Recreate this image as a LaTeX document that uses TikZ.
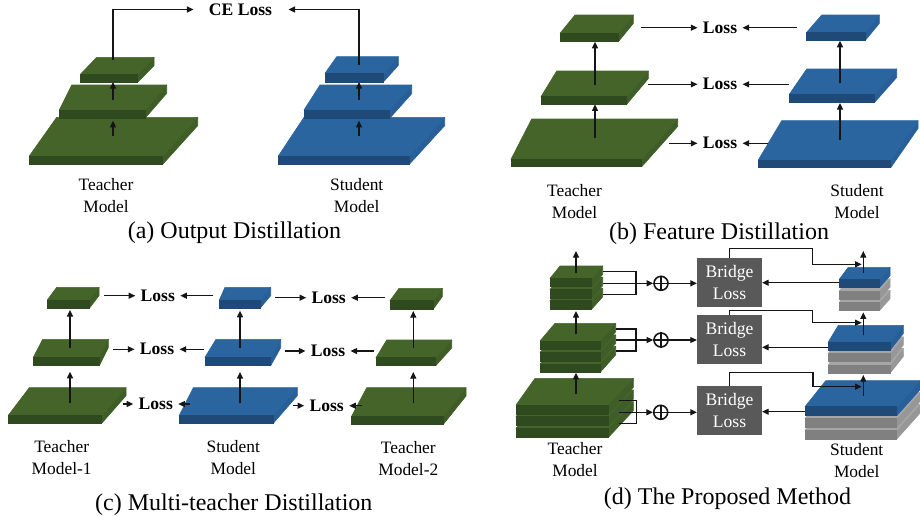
\documentclass[tikz,border=0pt]{standalone}
\usepackage{fontspec}
\setmainfont{Liberation Serif}
\usetikzlibrary{arrows.meta}
\definecolor{gtop}{HTML}{44642A}
\definecolor{gfront}{HTML}{2F4A1E}
\definecolor{gside}{HTML}{3E5D27}
\definecolor{btop}{HTML}{2A65A0}
\definecolor{bfront}{HTML}{1F4A78}
\definecolor{bside}{HTML}{285F98}
\definecolor{ytop}{HTML}{A6A6A6}
\definecolor{yfront}{HTML}{808080}
\definecolor{yside}{HTML}{979797}
\definecolor{boxgray}{HTML}{595959}
\definecolor{ln}{HTML}{151515}
% slab: front-left x, front-right x, front top y, thickness, back-left x, back-right x, back y, colour prefix
\newcommand{\slab}[8]{%
 \filldraw[fill=#8side,draw=#8side,line width=0.3pt,line join=round] (#2,#3) -- (#6,#7) -- (#6,#7+#4) -- (#2,#3+#4) -- cycle;
 \filldraw[fill=#8top,draw=#8top,line width=0.3pt,line join=round] (#1,#3) -- (#2,#3) -- (#6,#7) -- (#5,#7) -- cycle;
 \filldraw[fill=#8front,draw=#8front,line width=0.3pt] (#1,#3) rectangle (#2,#3+#4);}
\newcommand{\gstack}[8]{%
 \slab{#1}{#2}{#3+2*#8}{#4}{#5}{#6}{#7+2*#8}{g}%
 \slab{#1}{#2}{#3+#8}{#4}{#5}{#6}{#7+#8}{g}%
 \slab{#1}{#2}{#3}{#4}{#5}{#6}{#7}{g}}
\newcommand{\sstack}[8]{%
 \slab{#1}{#2}{#3+2*#8}{#4}{#5}{#6}{#7+2*#8}{y}%
 \slab{#1}{#2}{#3+#8}{#4}{#5}{#6}{#7+#8}{y}%
 \slab{#1}{#2}{#3}{#4}{#5}{#6}{#7}{b}}
\begin{document}
\begin{tikzpicture}[x=0.5pt,y=-0.5pt,
 arr/.style={draw=ln,line width=0.6pt,-{Triangle[length=3.3pt,width=3pt]}},
 plain/.style={draw=ln,line width=0.6pt},
 lbl/.style={inner sep=0pt,align=center,font=\fontsize{8.7}{11}\selectfont},
 capt/.style={inner sep=0pt,font=\fontsize{12}{14}\selectfont},
 lossn/.style={inner ysep=0pt,inner xsep=2.5pt,font=\fontsize{8.8}{10}\selectfont\bfseries},
 bridge/.style={fill=boxgray,text=white,inner sep=0pt,minimum width=32.2pt,minimum height=24.4pt,align=center,font=\fontsize{8.8}{10.8}\selectfont},
 oplus/.style={circle,draw=ln,line width=0.8pt,minimum size=7pt,inner sep=0pt}]
\useasboundingbox (0,0) rectangle (920,516);

% ================= (a) =================
\slab{29.3}{162.7}{156}{8.3}{56.7}{197.7}{117.3}{g}
\slab{59.3}{145}{110}{8.3}{71.7}{166.7}{85}{g}
\slab{80.7}{137.7}{74}{8.3}{96.7}{154}{57.3}{g}
\slab{278.3}{409.3}{156}{8.3}{304}{444.7}{117.3}{b}
\slab{304}{389.3}{110}{8.7}{320}{411.7}{85}{b}
\slab{325}{383.3}{73.3}{8.7}{336.7}{398.3}{56.7}{b}
\node[inner sep=0pt,font=\fontsize{8.8}{10}\selectfont\bfseries] (ce) at (240.5,9.5) {CE Loss};
\path (113,136) coordinate (aT1) (113,120.7) coordinate (aT2)
      (113,100) coordinate (aT3) (113,82) coordinate (aT4) (113,60) coordinate (aT5)
      (359,136) coordinate (aS1) (359,120.7) coordinate (aS2)
      (359,100) coordinate (aS3) (359,82) coordinate (aS4) (359,65) coordinate (aS5);
\draw[arr] (aT1) -- (aT2);
\draw[arr] (aT3) -- (aT4);
\draw[arr] (aS1) -- (aS2);
\draw[arr] (aS3) -- (aS4);
\draw[arr] (aT5) |- ([xshift=-7.5pt]ce.west);
\draw[arr] (aS5) |- ([xshift=8pt]ce.east);
\node[lbl] (aTl) at (106,196) {Teacher\\Model};
\node[lbl] (aSl) at (356.7,196) {Student\\Model};
\node[capt] (acap) at (234.5,233) {(a) Output Distillation};

% ================= (b) =================
\slab{511}{641.7}{159.3}{7.4}{531.7}{677.7}{119}{g}
\slab{541}{626.7}{96.7}{7.6}{556.7}{648.3}{71}{g}
\slab{560}{618.3}{33.3}{8.4}{575}{633.3}{15}{g}
\slab{758.3}{890.7}{160}{7.7}{781.7}{918}{120.7}{b}
\slab{789.3}{874.3}{94.3}{8.4}{806.7}{896.7}{69}{b}
\slab{806.7}{865}{32.3}{8.4}{821.7}{879.3}{15}{b}
\path (595,138) coordinate (bT1) (595,104.3) coordinate (bT2)
      (595,85) coordinate (bT3) (595,41.7) coordinate (bT4)
      (840,140) coordinate (bS1) (840,103) coordinate (bS2)
      (840,83) coordinate (bS3) (840,40.7) coordinate (bS4);
\draw[arr] (bT1) -- (bT2);
\draw[arr] (bT3) -- (bT4);
\draw[arr] (bS1) -- (bS2);
\draw[arr] (bS3) -- (bS4);
\node[lossn] (bL1) at (720,27.7) {Loss};
\node[lossn] (bL2) at (720,84.3) {Loss};
\node[lossn] (bL3) at (720,143.3) {Loss};
\path (641,27.7) coordinate (bl1) (796.7,27.7) coordinate (br1c)
      (648.3,84.3) coordinate (bl2) (789.3,84.3) coordinate (br2c)
      (669.3,143.3) coordinate (bl3) (768.3,143.3) coordinate (br3c);
\draw[arr] (bl1) -- (bL1.west);
\draw[arr] (br1c) -- (bL1.east);
\draw[arr] (bl2) -- (bL2.west);
\draw[arr] (br2c) -- (bL2.east);
\draw[arr] (bl3) -- (bL3.west);
\draw[arr] (br3c) -- (bL3.east);
\node[lbl] (bTl) at (574.5,201.2) {Teacher\\Model};
\node[lbl] (bSl) at (857,201.2) {Student\\Model};
\node[capt] (bcap) at (719,233.3) {(b) Feature Distillation};

% ================= (c) =================
\slab{8.3}{101.7}{415.3}{8}{29.3}{126}{387.7}{g}
\slab{33.3}{99.3}{357.3}{8.4}{42.7}{108.3}{339.3}{g}
\slab{47.3}{89.3}{300}{8.3}{56.7}{99}{287.3}{g}
\slab{179.3}{273.3}{415.3}{8}{193.3}{297.3}{387.7}{b}
\slab{205}{270.7}{357.3}{8.4}{216}{280.7}{339.3}{b}
\slab{219.3}{260}{300}{8.3}{225}{270.7}{287.3}{b}
\slab{351.7}{443.3}{416}{8.3}{366.7}{466}{387.7}{g}
\slab{376}{435.7}{357.7}{8}{386.7}{451.7}{340}{g}
\slab{390}{433.3}{300.7}{8.3}{399}{442.3}{288.3}{g}
\path (70,403.3) coordinate (c11) (70,371.7) coordinate (c12)
      (70,347.7) coordinate (c13) (70,310) coordinate (c14)
      (240,403.3) coordinate (c21) (240,372) coordinate (c22)
      (240,347.7) coordinate (c23) (240,310.7) coordinate (c24)
      (413.3,403.3) coordinate (c31) (413.3,372) coordinate (c32)
      (413.3,348) coordinate (c33) (413.3,311) coordinate (c34);
\draw[arr] (c11) -- (c12);
\draw[arr] (c13) -- (c14);
\draw[arr] (c21) -- (c22);
\draw[arr] (c23) -- (c24);
\draw[arr] (c31) -- (c32);
\draw[arr] (c33) -- (c34);
\node[lossn] (cA1) at (157.8,295.7) {Loss};
\node[lossn] (cA2) at (157,349.3) {Loss};
\node[lossn] (cA3) at (155.8,404) {Loss};
\node[lossn] (cB1) at (328.7,297.7) {Loss};
\node[lossn] (cB2) at (328,351) {Loss};
\node[lossn] (cB3) at (326.7,405.7) {Loss};
\path (104.3,295.7) coordinate (ca1) (213.3,295.7) coordinate (ca1r)
      (113.3,349.3) coordinate (ca2) (204,349.3) coordinate (ca2r)
      (122.7,404) coordinate (ca3) (190,404) coordinate (ca3r)
      (275,297.7) coordinate (cb1) (385,297.7) coordinate (cb1r)
      (285,351) coordinate (cb2) (374.3,351) coordinate (cb2r)
      (293.3,405.7) coordinate (cb3) (361.7,405.7) coordinate (cb3r);
\draw[arr] (ca1) -- (cA1.west);
\draw[arr] (ca1r) -- (cA1.east);
\draw[arr] (ca2) -- (cA2.west);
\draw[arr] (ca2r) -- (cA2.east);
\draw[arr] (ca3) -- (cA3.west);
\draw[arr] (ca3r) -- (cA3.east);
\draw[arr] (cb1) -- (cB1.west);
\draw[arr] (cb1r) -- (cB1.east);
\draw[arr] (cb2) -- (cB2.west);
\draw[arr] (cb2r) -- (cB2.east);
\draw[arr] (cb3) -- (cB3.west);
\draw[arr] (cb3r) -- (cB3.east);
\node[lbl] (cTl1) at (61.7,457.5) {Teacher\\Model-1};
\node[lbl] (cSl) at (233.3,457.2) {Student\\Model};
\node[lbl] (cTl2) at (408.3,458.3) {Teacher\\Model-2};
\node[capt] (ccap) at (233.8,504.5) {(c) Multi-teacher Distillation};

% ================= (d) =================
\gstack{516}{608.3}{405}{9}{535}{633.3}{378.3}{11.7}
\gstack{540}{600}{341}{8.5}{555}{615.7}{323.3}{11.5}
\gstack{550}{591.7}{278.3}{8.4}{560}{602.7}{266}{11.2}
\sstack{805}{896.7}{406.7}{9}{825.7}{920}{380.7}{11.7}
\sstack{828.3}{890}{342}{8.2}{838.3}{903.3}{325.3}{11.5}
\sstack{839.3}{879.3}{279.3}{8.4}{848.3}{890}{267.3}{11.5}

\node[bridge] (bx1) at (729.5,282.5) {Bridge\\Loss};
\node[bridge] (bx2) at (729.5,339.7) {Bridge\\Loss};
\node[bridge] (bx3) at (729.5,410.7) {Bridge\\Loss};
\node[oplus] (p1) at (661,283.3) {};
\node[oplus] (p2) at (661,340) {};
\node[oplus] (p3) at (660.7,412.3) {};
\foreach \p in {p1,p2,p3}{\draw[plain,line width=0.8pt] (\p.north) -- (\p.south) (\p.west) -- (\p.east);}

% vertical arrows
\path (576,273.3) coordinate (dT1) (576,251) coordinate (dT2)
      (576,334) coordinate (dT3) (576,311) coordinate (dT4)
      (576,394) coordinate (dT5) (576,372.7) coordinate (dT6)
      (863.3,272.7) coordinate (dS1) (863.3,251) coordinate (dS2)
      (863.3,335) coordinate (dS3) (863.3,312.3) coordinate (dS4)
      (863.3,395.7) coordinate (dS5) (863.3,375) coordinate (dS6);
\draw[arr] (dT1) -- (dT2);
\draw[arr] (dT3) -- (dT4);
\draw[arr] (dT5) -- (dT6);

% teacher brackets to oplus
\path (602.7,271.7) coordinate (k1a) (636,271.7) coordinate (k1b)
      (636,294.3) coordinate (k1c) (602.7,294.3) coordinate (k1d) (602.7,283.3) coordinate (k1m)
      (615.7,329) coordinate (k2a) (636,329) coordinate (k2b)
      (636,351) coordinate (k2c) (615.7,351) coordinate (k2d) (615.7,340) coordinate (k2m)
      (619.3,400.7) coordinate (k3a) (636.7,400.7) coordinate (k3b)
      (636.7,423.3) coordinate (k3c) (619.3,423.3) coordinate (k3d) (619.3,412.3) coordinate (k3m);
\draw[plain] (k1a) -- (k1b) -- (k1c) -- (k1d);
\draw[plain] (k2a) -- (k2b) -- (k2c) -- (k2d);
\draw[plain] (k3a) -- (k3b) -- (k3c) -- (k3d);
\draw[arr] (k1m) -- (p1.west);
\draw[arr] (k2m) -- (p2.west);
\draw[arr] (k3m) -- (p3.west);
\draw[arr] (p1.east) -- (p1.east -| bx1.west);
\draw[arr] (p2.east) -- (p2.east -| bx2.west);
\draw[arr] (p3.east) -- (p3.east -| bx3.west);

% student to bridge
\path (839.3,282.7) coordinate (s1) (828.3,347.3) coordinate (s2) (805,411.7) coordinate (s3);
\draw[arr] (s1) -- (s1 -| bx1.east);
\draw[arr] (s2) -- (s2 -| bx2.east);
\draw[arr] (s3) -- (s3 -| bx3.east);

% bridge feedback
\path (812.3,248.3) coordinate (f1a) (861.7,264.3) coordinate (f1b)
      (812.3,310.7) coordinate (f2a) (861.7,322.7) coordinate (f2b)
      (813,372.7) coordinate (f3a) (861.7,386.7) coordinate (f3b);
\draw[arr] (bx1.north) |- (f1a) |- (f1b);
\draw[arr] (bx2.north) |- (f2a) |- (f2b);
\draw[arr] (bx3.north) |- (f3a) |- (f3b);

\draw[arr] (dS1) -- (dS2);
\draw[arr] (dS3) -- (dS4);
\draw[arr] (dS5) -- (dS6);

\node[lbl] (dTl) at (575,460) {Teacher\\Model};
\node[lbl] (dSl) at (856.7,460.3) {Student\\Model};
\node[capt] (dcap) at (727.5,498.3) {(d) The Proposed Method};
\end{tikzpicture}
\end{document}
